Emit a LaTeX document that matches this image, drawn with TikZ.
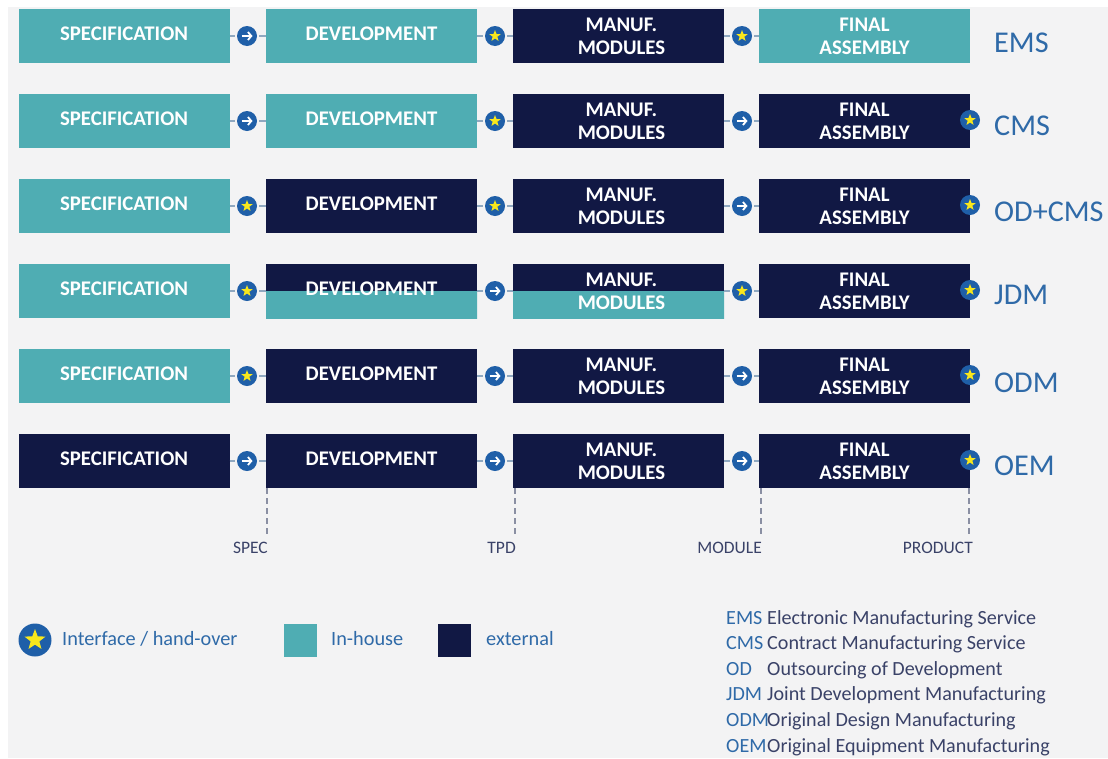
\documentclass[tikz,border=0pt]{standalone}
\usepackage{fontspec}
\setmainfont{Carlito}
\usetikzlibrary{arrows.meta}
\usetikzlibrary{shapes.geometric}

\definecolor{paper}{HTML}{F3F3F4}
\definecolor{teal1}{HTML}{4FADB3}
\definecolor{navy1}{HTML}{111844}
\definecolor{blue1}{HTML}{1F5FA8}
\definecolor{label1}{HTML}{2F6AA8}
\definecolor{ink1}{HTML}{3A4268}
\definecolor{link1}{HTML}{8FA8C0}
\definecolor{gate1}{HTML}{8A8FA3}
\definecolor{star1}{HTML}{F8E71C}

\tikzset{
  box/.style={minimum width=211pt, minimum height=54pt, inner sep=0pt, outer sep=0pt, align=center, text=white,
    font=\fontsize{20.8}{23}\selectfont\bfseries},
  oneline/.style={text height=13pt, text depth=5pt},
  twoline/.style={text height=37pt, text depth=0pt},
  inhouse/.style={box, fill=teal1},
  extern/.style={box, fill=navy1},
  halfway/.style={box, fill=navy1, path picture={\fill[teal1] ([xshift=-1pt]path picture bounding box.west) rectangle ([xshift=1pt,yshift=-1pt]path picture bounding box.south east);}},
  hub/.style={circle, fill=blue1, minimum size=20pt, inner sep=0pt, outer sep=2pt},
  hubgo/.style={hub, path picture={\draw[white, line width=1.8pt, -{Straight Barb[length=3.4pt,width=8pt]}] ([xshift=-5.5pt]path picture bounding box.center) -- ([xshift=5.5pt]path picture bounding box.center);}},
  hubstar/.style={hub, path picture={\node[starmark, minimum size=12pt] at (path picture bounding box.center) {};}},
  starmark/.style={star, star points=5, star point ratio=2.4, fill=star1, inner sep=0pt},
  link/.style={link1, line width=1.3pt},
  gate/.style={gate1, line width=1.2pt, dash pattern=on 6pt off 4pt},
  rowname/.style={anchor=west, inner sep=0pt, text=label1, font=\fontsize{30.2}{31}\selectfont},
  gatename/.style={anchor=east, inner sep=0pt, text=ink1, font=\fontsize{17.5}{18}\selectfont},
  legend/.style={anchor=west, inner sep=0pt, text=label1, font=\fontsize{20.3}{21}\selectfont},
  abbr/.style={anchor=base west, inner sep=0pt, text=label1, font=\fontsize{20.1}{21}\selectfont},
  meaning/.style={anchor=base west, inner sep=0pt, text=ink1, font=\fontsize{20.1}{21}\selectfont}
}

\begin{document}
\begin{tikzpicture}[x=1pt, y=-1pt]
  \useasboundingbox (0,0) rectangle (1108,758);
  \fill[paper] (8,7) rectangle (1108,758);

  % Rows
  \foreach \r/\yc/\ylab/\rowtag/\sa/\sb/\sc/\sd/\ha/\hb/\hc in {
    1/36/43/EMS/inhouse/inhouse/extern/inhouse/hubgo/hubstar/hubstar,
    2/121/126/CMS/inhouse/inhouse/extern/extern/hubgo/hubstar/hubgo,
    3/206/212/OD+CMS/inhouse/extern/extern/extern/hubstar/hubstar/hubgo,
    4/291/295/JDM/inhouse/halfway/halfway/extern/hubstar/hubgo/hubstar,
    5/376/383/ODM/inhouse/extern/extern/extern/hubstar/hubgo/hubgo,
    6/461/466/OEM/extern/extern/extern/extern/hubgo/hubgo/hubgo}
  {
    \node[\sa, oneline] (spec\r) at (124,\yc) {SPECIFICATION};
    \node[\sb, oneline] (dev\r) at (371.5,\yc) {DEVELOPMENT};
    \node[\sc, twoline] (manuf\r) at (618.5,\yc) {\hspace*{6pt}MANUF.\\\hspace*{6pt}MODULES};
    \node[\sd, twoline] (final\r) at (864.5,\yc) {FINAL\\ASSEMBLY};
    \node[\ha] (hubA\r) at (247,\yc) {};
    \node[\hb] (hubB\r) at (495,\yc) {};
    \node[\hc] (hubC\r) at (742,\yc) {};
    \draw[link] (spec\r) -- (hubA\r);
    \draw[link] (hubA\r) -- (dev\r);
    \draw[link] (dev\r) -- (hubB\r);
    \draw[link] (hubB\r) -- (manuf\r);
    \draw[link] (manuf\r) -- (hubC\r);
    \draw[link] (hubC\r) -- (final\r);
    \node[rowname] (tag\r) at (994,\ylab) {\rowtag};
  }

  % Hand-over at the end of the row
  \foreach \r/\yc in {2/120, 3/205, 4/290, 5/375, 6/460}
    \node[hubstar] (hubD\r) at (970,\yc) {};

  % Gates
  \node[gatename] (specname) at (268,548) {SPEC};
  \node[gatename] (tpdname) at (516,548) {TPD};
  \node[gatename] (modname) at (762,548) {MODULE};
  \node[gatename] (prodname) at (973,548) {PRODUCT};
  \coordinate (specend) at (267,537);
  \coordinate (tpdend) at (515,537);
  \coordinate (modend) at (761,537);
  \coordinate (prodend) at (969,537);
  \draw[gate] (dev6.south west -| specend) -- (specend);
  \draw[gate] (manuf6.south west -| tpdend) -- (tpdend);
  \draw[gate] (final6.south west -| modend) -- (modend);
  \draw[gate] (final6.south east -| prodend) -- (prodend);

  % Legend
  \node[hub, outer sep=0pt, minimum size=33pt, path picture={\node[starmark, minimum size=22pt] at (path picture bounding box.center) {};}] (keyhub) at (35,640) {};
  \node[legend] (keyhubtext) at (62,639) {Interface / hand-over};
  \node[fill=teal1, minimum width=33pt, minimum height=33pt, inner sep=0pt] (keyin) at (300.5,640) {};
  \node[legend] (keyintext) at (331,639) {In-house};
  \node[fill=navy1, minimum width=33pt, minimum height=33pt, inner sep=0pt] (keyout) at (454.5,640) {};
  \node[legend] (keyouttext) at (486,639) {external};

  % Abbreviations
  \foreach \k/\yb/\abbrtext/\meantext in {
    1/624/EMS/Electronic Manufacturing Service,
    2/649/CMS/Contract Manufacturing Service,
    3/675/OD/Outsourcing of Development,
    4/700/JDM/Joint Development Manufacturing,
    5/726/ODM/Original Design Manufacturing,
    6/752/OEM/Original Equipment Manufacturing}
  {
    \node[abbr] (abbr\k) at (726,\yb) {\abbrtext};
    \node[meaning] (mean\k) at (767,\yb) {\meantext};
  }
\end{tikzpicture}
\end{document}
